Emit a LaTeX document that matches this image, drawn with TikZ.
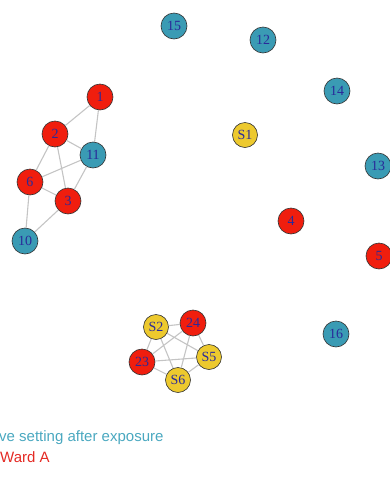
\documentclass[tikz,border=0pt]{standalone}
\usepackage{fontspec}
\setmainfont{Liberation Serif}
\setsansfont{Liberation Sans}
\definecolor{vred}{HTML}{F01E0E}
\definecolor{vteal}{HTML}{3A9BB4}
\definecolor{vyel}{HTML}{EDC92E}
\definecolor{vlab}{HTML}{2A2A9A}
\definecolor{vedge}{HTML}{C4C4C4}
\definecolor{legteal}{HTML}{4AA8C0}
\definecolor{legred}{HTML}{E42A24}
\tikzset{
  vtx/.style={circle, draw=black!80, line width=0.6pt, minimum size=26pt, inner sep=0pt,
    font=\fontsize{14}{14}\selectfont, text=vlab},
  rv/.style={vtx, fill=vred},
  tv/.style={vtx, fill=vteal},
  yv/.style={vtx, fill=vyel, minimum size=25pt},
  edg/.style={draw=vedge, line width=1.1pt},
  leg/.style={anchor=west, inner sep=0pt, font=\sffamily\fontsize{15}{15}\selectfont}
}
\begin{document}
\begin{tikzpicture}[x=1pt,y=-1pt]
\useasboundingbox (0,0) rectangle (390,480);
\clip (0,0) rectangle (390,480);
% cluster 1
\node[rv] (n1) at (100,97) {1};
\node[rv] (n2) at (55,134) {2};
\node[tv] (n11) at (93,155) {11};
\node[rv] (n6) at (30,182) {6};
\node[rv] (n3) at (68,201) {3};
\node[tv] (n10) at (25,241) {10};
% cluster 2
\node[yv] (s2) at (156,327) {S2};
\node[rv] (n24) at (193,323) {24};
\node[yv] (s5) at (209,357) {S5};
\node[rv] (n23) at (142,362) {23};
\node[yv] (s6) at (178,380) {S6};
% isolated
\node[tv] (n15) at (174,26) {15};
\node[tv] (n12) at (263,40) {12};
\node[tv] (n14) at (337,91) {14};
\node[yv] (s1) at (245,135) {S1};
\node[tv] (n13) at (378,166) {13};
\node[rv] (n4) at (291,221) {4};
\node[rv] (n5) at (379,256) {5};
\node[tv] (n16) at (336,334) {16};
% edges
\path[edg] (n1) -- (n2) (n1) -- (n11) (n2) -- (n11) (n2) -- (n6) (n2) -- (n3)
  (n11) -- (n6) (n11) -- (n3) (n6) -- (n3) (n6) -- (n10) (n3) -- (n10);
\path[edg] (s2) -- (n24) (s2) -- (n23) (s2) -- (s5) (s2) -- (s6)
  (n24) -- (n23) (n24) -- (s5) (n24) -- (s6) (n23) -- (s5) (n23) -- (s6) (s5) -- (s6);
% legend
\node[leg, text=legteal] (l1) at (-1,438) {ve setting after exposure};
\node[leg, text=legred] (l2) at (0,457) {Ward A};
\end{tikzpicture}
\end{document}
